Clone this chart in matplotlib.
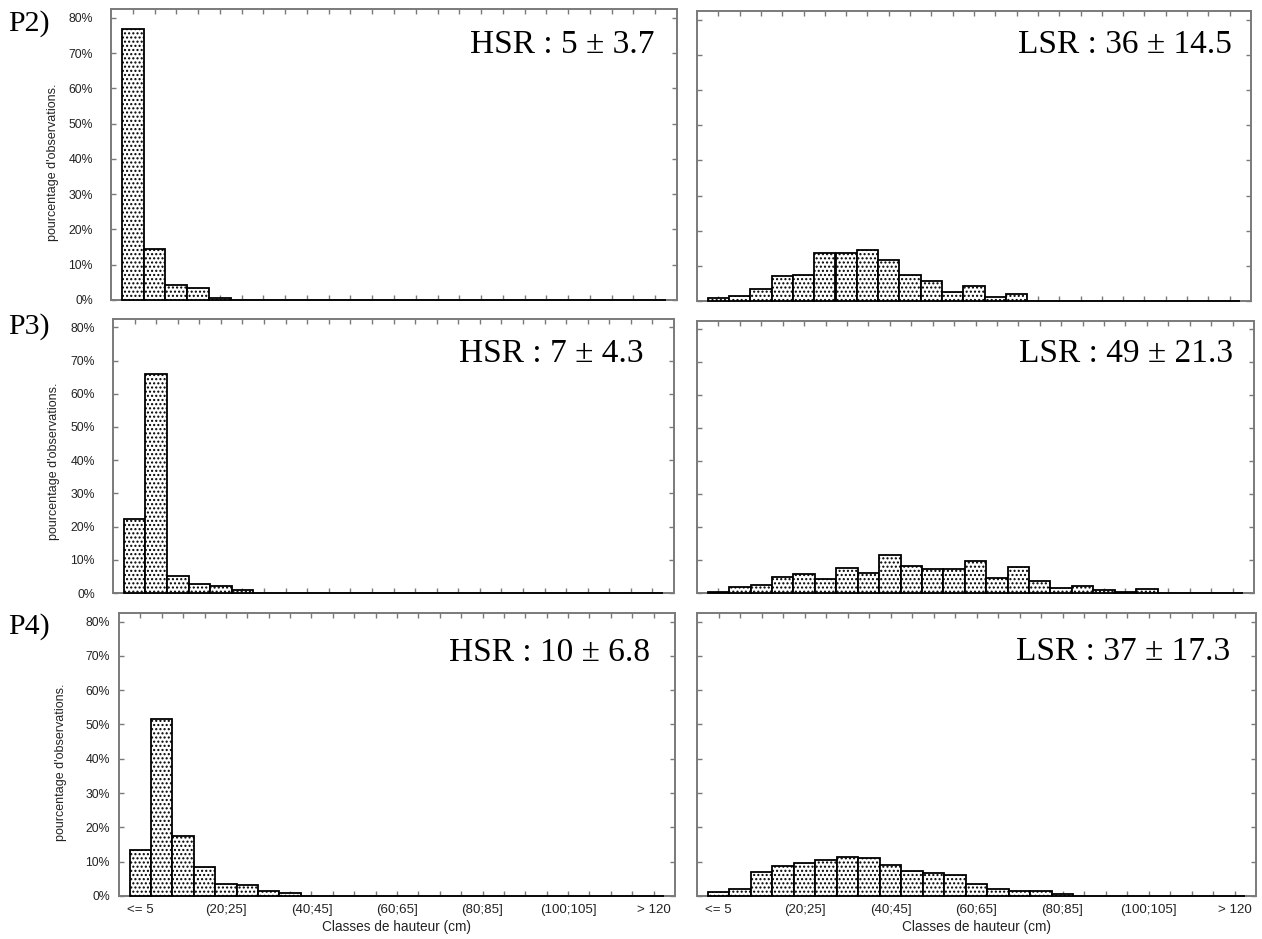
import numpy as np
import matplotlib
matplotlib.use("Agg")
import matplotlib.pyplot as plt

# height classes (cm), 25 bins
classes = ["<= 5"] + [f"({a};{a + 5}]" for a in range(5, 120, 5)] + ["> 120"]

# percentage of observations per class
p2_hsr = [76.7, 14.4, 4.3, 3.5, 0.5, 0, 0, 0, 0, 0, 0, 0, 0,
          0, 0, 0, 0, 0, 0, 0, 0, 0, 0, 0, 0]
p2_lsr = [0.8, 1.3, 3.5, 7.1, 7.5, 13.6, 13.6, 14.6, 11.8, 7.5, 5.6, 2.7, 4.4,
          1.0, 1.9, 0, 0, 0, 0, 0, 0, 0, 0, 0, 0]
p3_hsr = [22.4, 66.0, 5.0, 2.6, 2.0, 0.8, 0, 0, 0, 0, 0, 0, 0,
          0, 0, 0, 0, 0, 0, 0, 0, 0, 0, 0, 0]
p3_lsr = [0.4, 1.9, 2.5, 5.0, 5.8, 4.3, 7.7, 6.1, 11.4, 8.1, 7.4, 7.4, 9.7,
          4.6, 7.9, 3.6, 1.6, 2.2, 1.0, 0.4, 1.1, 0, 0, 0, 0]
p4_hsr = [13.4, 51.7, 17.6, 8.5, 3.6, 3.1, 1.5, 0.9, 0, 0, 0, 0, 0,
          0, 0, 0, 0, 0, 0, 0, 0, 0, 0, 0, 0]
p4_lsr = [1.1, 2.1, 6.9, 8.7, 9.7, 10.5, 11.5, 11.1, 9.0, 7.4, 6.7, 6.2, 3.4,
          2.1, 1.6, 1.6, 0.6, 0, 0, 0, 0, 0, 0, 0, 0]

row_names = ["P2)", "P3)", "P4)"]
hsr_text = ["HSR : 5 \u00b1 3.7", "HSR : 7 \u00b1 4.3", "HSR : 10 \u00b1 6.8"]
lsr_text = ["LSR : 36 \u00b1 14.5", "LSR : 49 \u00b1 21.3", "LSR : 37 \u00b1 17.3"]
series = [p2_hsr, p2_lsr, p3_hsr, p3_lsr, p4_hsr, p4_lsr]

W, H = 1262, 939
fig = plt.figure(figsize=(W / 100, H / 100), dpi=100)

# panel boxes in pixels: x0, y0 (top), x1, y1 (bottom)
boxes = [(111, 9, 677, 300), (697, 11, 1251, 301),
         (113, 319, 674, 593), (697, 321, 1254, 593),
         (119, 613, 675, 896), (697, 613, 1256, 896)]
text_pos = [(0.961, 0.876), (0.966, 0.883), (0.945, 0.872),
            (0.962, 0.879), (0.955, 0.859), (0.953, 0.862)]
ylab_pos = [(53, 162), (54, 461), (61, 762)]
ypad = [13, 13, 6.5]
row_y = [24, 327, 627]

sans = ["Liberation Sans", "DejaVu Sans"]
serif = ["Liberation Serif", "DejaVu Serif"]
spine_col = "#7a7a7a"
x = np.arange(len(classes))

for i, (box, vals) in enumerate(zip(boxes, series)):
    x0, y0, x1, y1 = box
    ax = fig.add_axes([x0 / W, (H - y1) / H, (x1 - x0) / W, (y1 - y0) / H])
    row, col = divmod(i, 2)
    ax.bar(x, vals, width=1.0, facecolor="white", edgecolor="black",
           linewidth=1.3, hatch="....", zorder=3, clip_on=False)
    ax.set_xlim(-1, 25)
    ax.set_ylim(0, 82.5)
    for s in ax.spines.values():
        s.set_color(spine_col)
        s.set_linewidth(1.4)
    ax.set_xticks(x)
    ax.set_yticks(np.arange(0, 81, 10))
    ax.tick_params(direction="in", top=True, right=True, length=3.5,
                   color=spine_col, width=1, labelsize=8.8, labelcolor="#222222")
    if row == 2:
        ax.set_xticklabels([c if k % 4 == 0 else "" for k, c in enumerate(classes)],
                           fontfamily=sans, fontsize=9.6)
        ax.tick_params(axis="x", pad=6)
        ax.set_xlabel("Classes de hauteur (cm)", fontsize=9.8, family=sans,
                      color="#222222", labelpad=3)
    else:
        ax.set_xticklabels([])
    if col == 0:
        ax.set_yticklabels([f"{v}%" for v in range(0, 81, 10)], fontfamily=sans)
        ax.tick_params(axis="y", pad=ypad[row])
        lx, ly = ylab_pos[row]
        fig.text(lx / W, 1 - ly / H, "pourcentage d'observations.", rotation=90,
                 ha="center", va="center", fontsize=9, family=sans, color="#222222")
        fig.text(8 / W, 1 - row_y[row] / H, row_names[row], ha="left", va="center",
                 fontsize=21.5, family=serif)
        label = hsr_text[row]
    else:
        ax.set_yticklabels([])
        label = lsr_text[row]
    tx, ty = text_pos[i]
    ax.text(tx, ty, label, transform=ax.transAxes, ha="right", va="center",
            fontsize=24, family=serif)

fig.savefig("out.png", dpi=100)
